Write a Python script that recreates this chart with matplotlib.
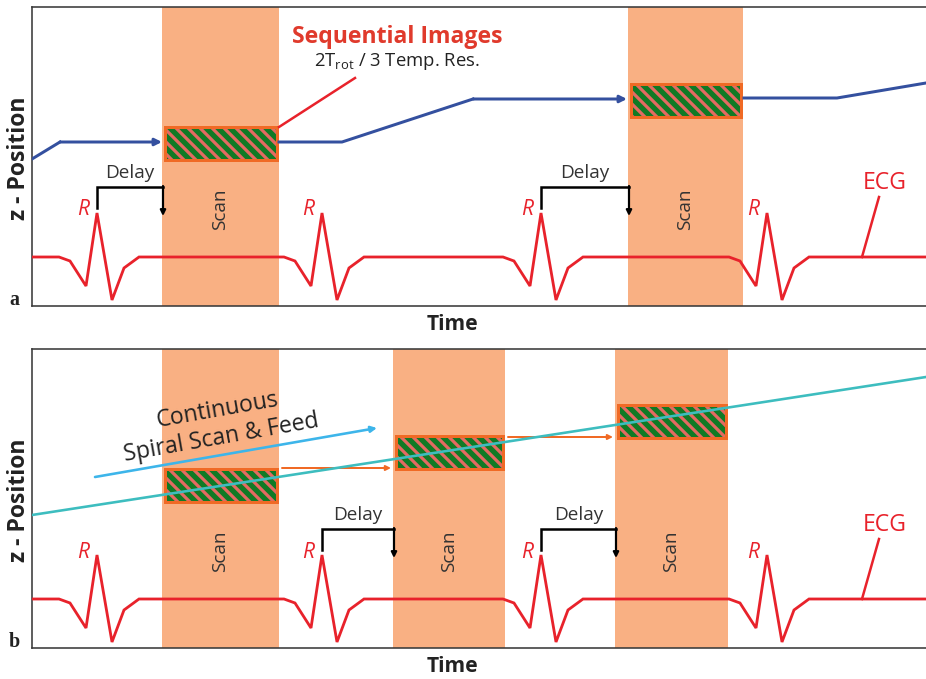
import matplotlib.pyplot as plt
from matplotlib.patches import Rectangle

plt.rcParams['font.family'] = ['Open Sans', 'DejaVu Sans']
plt.rcParams['hatch.linewidth'] = 3.2

W, H = 926, 679
DPI = 72

# panels, in pixels of the picture
panel_tops = [7, 349]
panel_h = 299
x_left, x_right = 32, 926

# ECG: R-peak positions and one beat (offset from the R peak, height)
r_peaks = [97, 322, 541, 767]
beat_dx = [-38, -27, -11, 0, 15, 27, 42]
beat_y = [250, 254, 279, 206, 293, 261, 250]
ecg_base = 250

# scan windows and image slabs
scan_a = [(162, 279), (628, 743)]
scan_b = [(162, 279), (393, 505), (615, 728)]
slab_top_a = [120, 77]
slab_top_b = [120, 87, 56]
slab_h = 33

# delay brackets: (beat index, scan index)
delay_a = [(0, 0), (2, 1)]
delay_b = [(1, 1), (2, 2)]

# table position for sequential mode (a), pieces ending in an arrow or not
feed_a = [
    ([32, 60, 162], [152, 135, 135], True),
    ([279, 342, 473, 627], [135, 135, 92, 92], True),
    ([744, 837, 926], [91, 91, 76], False),
]
# spiral mode (b)
spiral_x = [32, 926]
spiral_y = [166, 28]
feed_arrow_x = [95, 377]
feed_arrow_y = [128, 79]

RED = '#e8222b'
BAND = '#f9b083'
GREEN = '#107a25'
STRIPE = '#e46a62'
ORANGE = '#f06a25'
BLUE = '#34509f'
CYAN = '#3dbdbf'
SKY = '#3db5ea'
DARK = '#333333'


def arrow(ax, x0, y0, x1, y1, color, lw, ms=12):
    ax.annotate('', xy=(x1, y1), xytext=(x0, y0),
                arrowprops=dict(arrowstyle='-|>', color=color, lw=lw,
                                mutation_scale=ms, shrinkA=0, shrinkB=0),
                zorder=5)


def draw_panel(ax, scans, slab_tops, delays, letter):
    ax.set_xlim(x_left, x_right)
    ax.set_ylim(panel_h, 0)
    ax.set_xticks([])
    ax.set_yticks([])
    ax.spines['right'].set_visible(False)
    for s in ['left', 'top', 'bottom']:
        ax.spines[s].set_color('#3a3a3a')
        ax.spines[s].set_linewidth(1.6)

    for (x0, x1), top in zip(scans, slab_tops):
        ax.axvspan(x0, x1, color=BAND, lw=0, zorder=0)
        ax.add_patch(Rectangle((x0 + 3, top), x1 - x0 - 5, slab_h,
                               facecolor=GREEN, edgecolor=STRIPE,
                               hatch='\\\\', lw=0, zorder=2))
        ax.add_patch(Rectangle((x0 + 3, top), x1 - x0 - 5, slab_h,
                               fill=False, edgecolor=ORANGE, lw=3, zorder=3))
        ax.text((x0 + x1) / 2, 202, 'Scan', rotation=90, ha='center',
                va='center', fontsize=19, color=DARK)

    # ECG trace
    xs, ys = [x_left], [ecg_base]
    for r in r_peaks:
        xs += [r + d for d in beat_dx]
        ys += beat_y
    xs.append(x_right)
    ys.append(ecg_base)
    ax.plot(xs, ys, color=RED, lw=2.8, zorder=4, solid_joinstyle='miter')
    for r in r_peaks:
        ax.text(r - 14, 203, 'R', color=RED, fontsize=21, style='italic',
                ha='center', va='center')
    ax.text(885, 176, 'ECG', color=RED, fontsize=23, ha='center',
            va='center')
    ax.plot([879, 862], [190, ecg_base], color=RED, lw=2.5)

    # delay brackets
    for bi, si in delays:
        x0 = r_peaks[bi]
        x1 = scans[si][0] + 1
        ax.plot([x0, x0, x1], [201, 180, 180], color='black', lw=2.5,
                solid_joinstyle='miter', zorder=5)
        arrow(ax, x1, 179, x1, 209, 'black', 2.2, ms=11)
        ax.text((x0 + x1) / 2, 166, 'Delay', fontsize=19, color=DARK,
                ha='center', va='center')

    ax.text(452, 318, 'Time', fontsize=21, fontweight='bold', color='#222222',
            ha='center', va='center', clip_on=False)
    ax.text(19, 151, 'z - Position', fontsize=23, fontweight='bold',
            color='#222222', rotation=90, ha='center', va='center',
            clip_on=False)
    ax.text(14, 298, letter, fontsize=20, fontweight='bold',
            family='Liberation Serif', color='#222222', ha='center',
            va='baseline', clip_on=False)


fig = plt.figure(figsize=(W / DPI, H / DPI), dpi=DPI)
axes = []
for top in panel_tops:
    axes.append(fig.add_axes([x_left / W, 1 - (top + panel_h) / H,
                              (x_right - x_left) / W, panel_h / H]))
ax_a, ax_b = axes

draw_panel(ax_a, scan_a, slab_top_a, delay_a, 'a')
draw_panel(ax_b, scan_b, slab_top_b, delay_b, 'b')

# (a) sequential table feed
for xs, ys, head in feed_a:
    if head:
        ax_a.plot(xs[:-1], ys[:-1], color=BLUE, lw=3, zorder=4)
        arrow(ax_a, xs[-2], ys[-2], xs[-1], ys[-1], BLUE, 3, ms=14)
    else:
        ax_a.plot(xs, ys, color=BLUE, lw=3, zorder=4)
ax_a.plot([279, 355], [120, 71], color=RED, lw=2.5, zorder=4)
ax_a.text(397, 30, 'Sequential Images', color='#e03a2c', fontsize=23,
          fontweight='bold', ha='center', va='center')
ax_a.text(397, 55, r'2T$_\mathregular{rot}$ / 3 Temp. Res.', color='#222222',
          fontsize=18.5, ha='center', va='center')

# (b) spiral scan
ax_b.plot(spiral_x, spiral_y, color=CYAN, lw=2.6, zorder=6)
arrow(ax_b, feed_arrow_x[0], feed_arrow_y[0], feed_arrow_x[1],
      feed_arrow_y[1], SKY, 2.6, ms=12)
for i in range(len(scan_b) - 1):
    arrow(ax_b, scan_b[i][1] + 3, slab_top_b[i + 1] + slab_h - 1,
          scan_b[i + 1][0] - 2, slab_top_b[i + 1] + slab_h - 1, ORANGE, 2,
          ms=10)
ax_b.text(217, 61, 'Continuous', fontsize=23, color='#222222', rotation=10,
          ha='center', va='center', rotation_mode='anchor')
ax_b.text(221, 89, 'Spiral Scan & Feed', fontsize=23, color='#222222',
          rotation=10, ha='center', va='center', rotation_mode='anchor')

fig.savefig('out.png', dpi=DPI, facecolor='white')
